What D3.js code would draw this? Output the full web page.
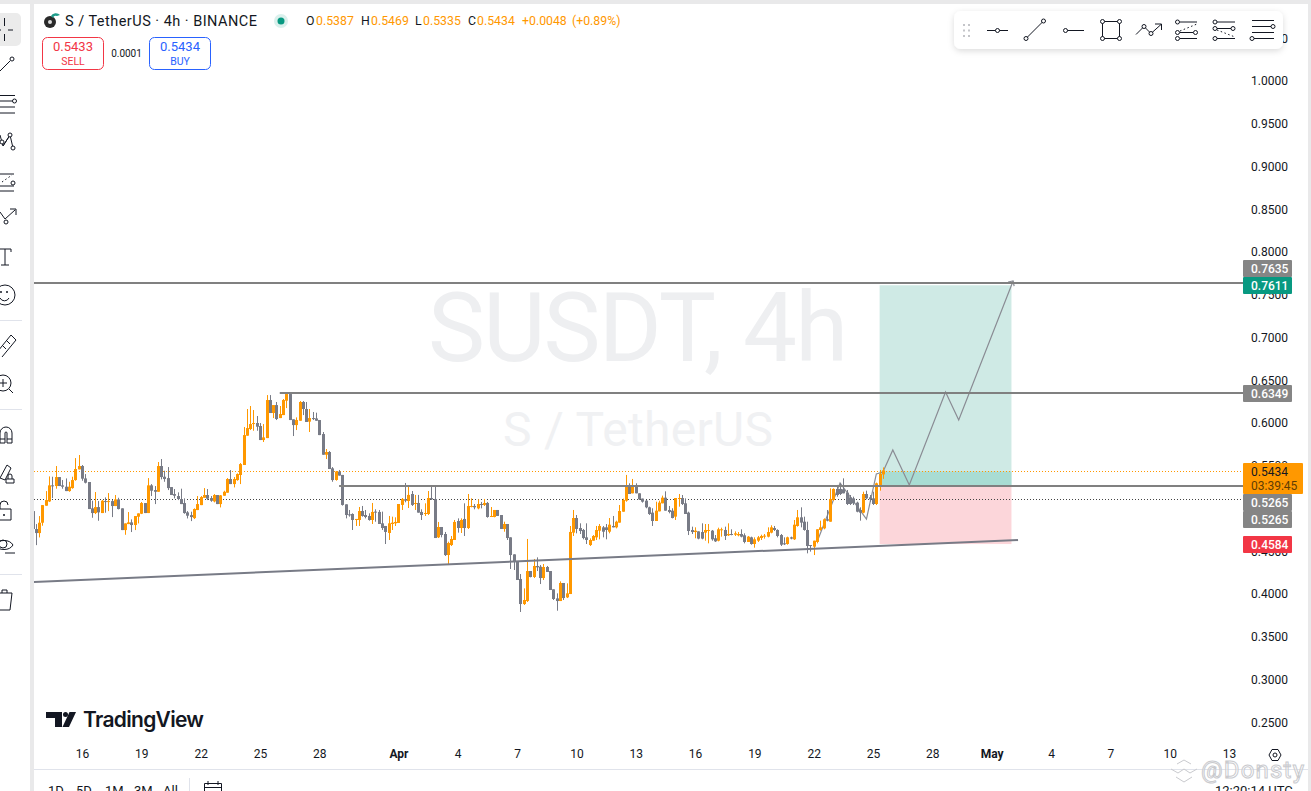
<!DOCTYPE html>
<html>
<head>
<meta charset="utf-8">
<title>SUSDT, 4h</title>
<script src="https://cdn.jsdelivr.net/npm/d3@7"></script>
<style>
  html, body { margin: 0; padding: 0; background: #fff; overflow: hidden; }
  svg { display: block; font-family: Roboto, "Open Sans", sans-serif; }
</style>
</head>
<body>
<svg id="chart" width="1311" height="791"></svg>
<script>
// [open, high, low, close]
var marchBars = [
  [.4958,.4958,.4697,.4748],[.4748,.4806,.4560,.4701],[.4701,.4900,.4650,.4822],[.4822,.5028,.4787,.5028],
  [.5021,.5192,.5021,.5087],[.5071,.5364,.5064,.5259],[.5259,.5360,.5110,.5251],[.5251,.5485,.5220,.5356],
  [.5356,.5356,.5251,.5251],[.5259,.5321,.5220,.5243],[.5243,.5340,.5192,.5192],[.5192,.5301,.5184,.5243],
  [.5227,.5360,.5220,.5321],[.5321,.5578,.5313,.5450],[.5446,.5614,.5446,.5485],[.5485,.5497,.5313,.5337],
  [.5340,.5391,.5282,.5290],[.5298,.5298,.4982,.4982],[.4990,.5079,.4880,.4935],[.4935,.5181,.4923,.5005],
  [.5005,.5075,.4845,.4943],[.4935,.5087,.4935,.5079],[.5075,.5118,.4939,.5067],[.5067,.5169,.4958,.5075],
  [.5075,.5087,.4888,.5017],[.5017,.5146,.5017,.5095],[.5095,.5114,.4978,.4982],[.4990,.4990,.4736,.4736],
  [.4736,.4814,.4681,.4814],[.4806,.4947,.4806,.4826],[.4826,.4861,.4713,.4795],[.4795,.4900,.4736,.4900],
  [.4892,.4931,.4814,.4931],[.4927,.5064,.4923,.5052],[.5052,.5052,.4935,.4935],[.4935,.5344,.4935,.5259],
  [.5259,.5274,.5134,.5196],[.5204,.5251,.5040,.5184],[.5184,.5532,.5184,.5485],[.5485,.5567,.5329,.5356],
  [.5360,.5430,.5301,.5333],[.5344,.5473,.5204,.5227],[.5239,.5239,.5146,.5146],[.5157,.5216,.5107,.5138],
  [.5134,.5177,.5087,.5099],[.5099,.5220,.5040,.5040],[.5052,.5107,.4927,.4935],[.4943,.4958,.4872,.4904],
  [.4911,.4951,.4841,.4888],[.4876,.4990,.4865,.4982],[.4970,.5134,.4970,.5040],[.5028,.5134,.5028,.5122],
  [.5114,.5227,.5114,.5146],[.5146,.5216,.5087,.5103],[.5110,.5134,.5067,.5079],[.5071,.5157,.5060,.5146],
  [.5146,.5146,.5040,.5040],[.5040,.5146,.5001,.5142],[.5138,.5196,.5138,.5184],[.5173,.5344,.5173,.5333],
  [.5333,.5438,.5274,.5274],[.5274,.5356,.5235,.5333],[.5321,.5399,.5313,.5391],[.5380,.5520,.5274,.5508],
  [.5497,.5941,.5497,.5847],[.5840,.6152,.5840,.5929],[.5918,.6187,.5906,.5976],[.5976,.6140,.5898,.5988],
  [.5988,.6070,.5898,.5945],[.5953,.5988,.5789,.5789],[.5789,.5976,.5766,.5820],[.5812,.6315,.5812,.6257],
  [.6257,.6315,.6105,.6105],[.6105,.6198,.6046,.6198],[.6198,.6234,.6023,.6035],[.6046,.6187,.6046,.6093],
  [.6081,.6269,.6081,.6257],[.6249,.6351,.6163,.6327],[.6327,.6327,.6023,.6023],[.6031,.6031,.5836,.5964],
  [.5964,.6054,.5906,.6023],[.6015,.6245,.6015,.6234],[.6234,.6245,.6081,.6152],[.6152,.6234,.6000,.6000],
  [.6004,.6152,.5883,.6046],[.6046,.6117,.6023,.6035],[.6042,.6109,.6015,.6015],[.6023,.6023,.5847,.5847],
  [.5859,.5883,.5617,.5617],[.5617,.5684,.5567,.5649],[.5649,.5660,.5450,.5450],[.5458,.5473,.5301,.5321]
];
var aprilBars = [
  [.5322,.5427,.5314,.5420],[.5420,.5439,.5373,.5373],[.5381,.5381,.5022,.5030],[.5037,.5037,.4873,.4912],
  [.4920,.4971,.4893,.4909],[.4924,.4932,.4737,.4854],[.4854,.4866,.4784,.4866],[.4854,.5006,.4784,.4959],
  [.4959,.5018,.4893,.4901],[.4912,.4971,.4873,.4889],[.4901,.4932,.4846,.4854],[.4854,.5053,.4807,.4948],
  [.4952,.4979,.4834,.4940],[.4948,.4971,.4807,.4807],[.4815,.4952,.4737,.4760],[.4784,.4784,.4573,.4714],
  [.4702,.4901,.4620,.4815],[.4807,.4893,.4737,.4823],[.4815,.4885,.4784,.4831],[.4819,.5041,.4819,.5041],
  [.5030,.5111,.4971,.5100],[.5096,.5287,.5061,.5080],[.5076,.5252,.4994,.5147],[.5158,.5193,.5018,.5030],
  [.5045,.5147,.4971,.5053],[.5053,.5147,.4940,.4940],[.4948,.4979,.4854,.4912],[.4924,.5049,.4901,.4936],
  [.4924,.5193,.4912,.5111],[.5111,.5244,.5088,.5096],[.5100,.5244,.4643,.4643],[.4651,.4831,.4643,.4772],
  [.4772,.4772,.4651,.4678],[.4690,.4714,.4433,.4444],[.4444,.4600,.4327,.4585],[.4561,.4667,.4550,.4632],
  [.4620,.4854,.4620,.4831],[.4842,.4873,.4706,.4760],[.4760,.4873,.4702,.4854],[.4866,.5049,.4667,.4760],
  [.4760,.5158,.4749,.5018],[.5010,.5107,.5002,.5018],[.5018,.5041,.4979,.5002],[.4990,.5096,.4979,.5041],
  [.5041,.5065,.4990,.5033],[.5030,.5100,.5018,.5053],[.5053,.5065,.4881,.4889],[.4889,.5006,.4889,.4901],
  [.4889,.4971,.4885,.4971],[.4971,.4971,.4901,.4901],[.4912,.4912,.4749,.4749],[.4749,.4834,.4717,.4807],
  [.4807,.4807,.4620,.4643],[.4651,.4651,.4281,.4444],[.4452,.4452,.4269,.4374],[.4374,.4374,.4152,.4152],
  [.4164,.4222,.3778,.3871],[.3871,.4054,.3860,.3918],[.3906,.4632,.3895,.4257],[.4257,.4257,.4183,.4187],
  [.4187,.4398,.4175,.4316],[.4316,.4417,.4257,.4300],[.4308,.4327,.4105,.4175],[.4175,.4339,.4152,.4304],
  [.4304,.4316,.4246,.4246],[.4257,.4257,.4035,.4035],[.4043,.4043,.3918,.3930],[.3937,.3996,.3793,.3906],
  [.3906,.4136,.3906,.4117],[.4117,.4117,.3918,.3941],[.3949,.4113,.3941,.3996],[.3988,.4784,.3988,.4714],
  [.4706,.4971,.4667,.4877],[.4877,.4912,.4698,.4749],[.4760,.4815,.4690,.4725],[.4737,.4749,.4628,.4643],
  [.4651,.4815,.4573,.4620],[.4561,.4639,.4550,.4620]
];
var lateBars = [
  [.4612,.4678,.4612,.4667],[.4651,.4784,.4620,.4737],[.4729,.4807,.4628,.4784],[.4768,.4784,.4651,.4717],
  [.4768,.4807,.4628,.4737],[.4717,.4877,.4698,.4799],[.4784,.4901,.4768,.4768],[.4768,.4846,.4756,.4834],
  [.4823,.5029,.4823,.4959],[.4951,.5104,.4951,.5088],[.5080,.5381,.5068,.5252],[.5252,.5283,.5158,.5158],
  [.5166,.5334,.5166,.5252],[.5252,.5283,.5166,.5166],[.5166,.5166,.5088,.5096],[.5104,.5104,.5057,.5068],
  [.5080,.5088,.4991,.5002],[.5002,.5010,.4913,.4924],[.4940,.4991,.4784,.4842],[.4842,.5068,.4842,.4963],
  [.4955,.5080,.4955,.5057],[.5049,.5139,.5049,.5115],[.5115,.5189,.4963,.4963],[.4971,.5018,.4932,.4948],
  [.4963,.4991,.4873,.4877],[.4893,.5111,.4854,.5111],[.5104,.5158,.5010,.5111],[.5111,.5146,.5029,.5041],
  [.5049,.5107,.4924,.4924],[.4940,.4951,.4678,.4725],[.4737,.4776,.4690,.4713],[.4713,.4768,.4640,.4729],
  [.4721,.4721,.4628,.4636],[.4713,.4815,.4628,.4636],[.4706,.4807,.4612,.4737],[.4729,.4807,.4581,.4737],
  [.4729,.4737,.4612,.4628],[.4640,.4678,.4597,.4604],[.4612,.4764,.4604,.4745],[.4737,.4764,.4659,.4745],
  [.4737,.4776,.4620,.4667],[.4675,.4815,.4667,.4690],[.4690,.4745,.4675,.4682],[.4682,.4721,.4667,.4698],
  [.4675,.4713,.4663,.4690],[.4690,.4745,.4651,.4659],[.4675,.4698,.4581,.4597],[.4597,.4667,.4597,.4659],
  [.4651,.4659,.4565,.4573],[.4573,.4651,.4530,.4628],[.4612,.4667,.4597,.4651],[.4643,.4682,.4620,.4667],
  [.4659,.4690,.4636,.4671],[.4659,.4768,.4651,.4713],[.4706,.4792,.4698,.4768],[.4760,.4784,.4725,.4737],
  [.4737,.4745,.4651,.4667],[.4678,.4690,.4550,.4565],[.4581,.4651,.4561,.4569],[.4573,.4659,.4565,.4651],
  [.4651,.4659,.4628,.4636],[.4628,.4854,.4620,.4799],[.4784,.4971,.4776,.4885],[.4885,.5002,.4768,.4823],
  [.4834,.4893,.4729,.4737],[.4737,.4834,.4464,.4550],[.4561,.4561,.4484,.4550],[.4542,.4612,.4444,.4612],
  [.4597,.4745,.4581,.4745],[.4737,.4846,.4729,.4768],[.4756,.4873,.4745,.4862],[.4862,.4971,.4838,.4846],
  [.4834,.5224,.4834,.5100],[.5088,.5224,.5080,.5217],[.5217,.5264,.5127,.5146],[.5217,.5283,.5146,.5158],
  [.5213,.5341,.5166,.5166],[.5174,.5205,.5029,.5041],[.5119,.5146,.5029,.5041],[.5107,.5127,.5029,.5049],
  [.5057,.5068,.4944,.4951],[.4971,.5002,.4846,.4940],[.4940,.5185,.4932,.5158],[.5158,.5197,.5096,.5107],
  [.5119,.5146,.5068,.5096],[.5107,.5185,.5029,.5041],[.5041,.5291,.5029,.5283],[.5264,.5439,.5197,.5392],
  [.5387,.5469,.5335,.5434]
];
var lastBarTime = Date.UTC(2025, 3, 25, 12);
var fourHours = 4 * 3600 * 1000;

var priceTicks = [1.05, 1.0, .95, .9, .85, .8, .75, .7, .65, .6, .55, .5, .45, .4, .35, .3, .25];
var timeTickDates = [[2,16],[2,19],[2,22],[2,25],[2,28],[3,1],[3,4],[3,7],[3,10],[3,13],[3,16],[3,19],[3,22],[3,25],[3,28],[4,1],[4,4],[4,7],[4,10],[4,13]];
var timeTickLabels = ['16','19','22','25','28','Apr','4','7','10','13','16','19','22','25','28','May','4','7','10','13'];

var lastPrice = .5434, targetPrice = .7611, targetLine = .7635, stopPrice = .4584;
var midLine = .6349, entryLine = .5265, dottedLine = .5098;
var rangeStart = [3,25,8], rangeEnd = [4,2,0];
var midLineStart = [2,26,0], entryLineStart = [2,29,0];
var trendTimes = [[2,11,0],[4,2,8]], trendPrices = [.4116, .4631];
var projTimes = [[3,22,4],[3,23,8],[3,24,16],[3,25,4],[3,25,12],[3,26,0],[3,26,20],[3,28,16],[3,29,8],[4,2,2]];
var projPrices = [.4596, .5287, .4865, .5392, .5415, .5673, .5263, .6351, .6023, .7649];

var UP = '#ff9800', DOWN = '#787b86', LINE = '#808080', INK = '#131722';

function utc(a) { return new Date(Date.UTC(2025, a[0], a[1], a[2] || 0)); }

var bars = d3.merge([marchBars, aprilBars, lateBars]).map(function (b, i, all) {
  return { t: new Date(lastBarTime - (all.length - 1 - i) * fourHours), o: b[0], h: b[1], l: b[2], c: b[3] };
});

var x = d3.scaleUtc().domain([utc([2,16]), utc([4,13])]).range([82, 1229]);
var y = d3.scaleLinear().domain([1, .25]).range([80, 721.25]);

var svg = d3.select('#chart');
svg.append('defs').append('clipPath').attr('id', 'pane').append('rect')
  .attr('x', 34).attr('y', 4).attr('width', 1209).attr('height', 765);
var shadow = svg.select('defs').append('filter').attr('id', 'soft')
  .attr('x', '-5%').attr('y', '-20%').attr('width', '110%').attr('height', '150%');
shadow.append('feDropShadow').attr('dx', 0).attr('dy', 2).attr('stdDeviation', 3).attr('flood-color', '#000').attr('flood-opacity', .14);

// page frame
svg.append('rect').attr('width', 1311).attr('height', 791).attr('fill', '#fff');
svg.append('rect').attr('width', 1311).attr('height', 4).attr('fill', '#e9e9ea');
svg.append('rect').attr('x', 30).attr('width', 4).attr('height', 791).attr('fill', '#e9e9ea');
svg.append('rect').attr('x', 1308).attr('width', 3).attr('height', 791).attr('fill', '#e9e9ea');
svg.append('rect').attr('x', 34).attr('y', 769).attr('width', 1274).attr('height', 1).attr('fill', '#e0e3eb');

// watermark
svg.append('text').attr('x', 638).attr('y', 361).attr('text-anchor', 'middle')
  .attr('font-size', 96).attr('fill', '#eeeff1').attr('textLength', 420).text('SUSDT, 4h');
svg.append('text').attr('x', 638).attr('y', 446).attr('text-anchor', 'middle')
  .attr('font-size', 48).attr('fill', '#f0f1f3').attr('textLength', 270).text('S / TetherUS');

var pane = svg.append('g').attr('clip-path', 'url(#pane)');
// the box and level lines sit one pixel under the candles in the reference
var paneBack = pane.append('g').attr('transform', 'translate(0,1)');

// long position box
var boxX = x(utc(rangeStart)), boxW = x(utc(rangeEnd)) - boxX;
paneBack.append('rect').attr('x', boxX).attr('width', boxW).attr('y', y(targetPrice)).attr('height', y(entryLine) - y(targetPrice)).attr('fill', '#cfeae5');
paneBack.append('rect').attr('x', boxX).attr('width', boxW).attr('y', y(lastPrice)).attr('height', y(entryLine) - y(lastPrice)).attr('fill', '#a9dcd3');
paneBack.append('rect').attr('x', boxX).attr('width', boxW).attr('y', y(entryLine)).attr('height', y(stopPrice) - y(entryLine)).attr('fill', '#fcd6da');

// dotted price lines
pane.append('line').attr('x1', 34).attr('x2', 1243)
  .attr('y1', Math.floor(y(lastPrice)) + 1.5).attr('y2', Math.floor(y(lastPrice)) + 1.5)
  .attr('stroke', UP).attr('stroke-width', 1).attr('stroke-dasharray', '1 2');
pane.append('line').attr('x1', 34).attr('x2', 1243)
  .attr('y1', Math.floor(y(dottedLine)) + .5).attr('y2', Math.floor(y(dottedLine)) + .5)
  .attr('stroke', '#444').attr('stroke-width', 1).attr('stroke-dasharray', '1 2');

// projected path
var projLine = d3.line().x(function (d) { return x(utc(d[0])); }).y(function (d) { return y(d[1]); });
pane.append('path').datum(d3.zip(projTimes, projPrices)).attr('d', projLine)
  .attr('fill', 'none').attr('stroke', '#8a8c94').attr('stroke-width', 1.2);
var tipX = x(utc(projTimes[projTimes.length - 1])), tipY = y(projPrices[projPrices.length - 1]);
pane.append('path').attr('d', 'M' + (tipX - 5) + ',' + (tipY + 1) + 'L' + tipX + ',' + tipY + 'L' + (tipX + 1) + ',' + (tipY + 5))
  .attr('fill', 'none').attr('stroke', '#8a8c94').attr('stroke-width', 1.2);

// candles
var candle = pane.append('g').selectAll('g').data(bars).enter().append('g')
  .attr('fill', function (d) { return d.c >= d.o ? UP : DOWN; });
candle.append('rect')
  .attr('x', function (d) { return Math.round(x(d.t)); })
  .attr('width', 1)
  .attr('y', function (d) { return y(d.h); })
  .attr('height', function (d) { return y(d.l) - y(d.h); });
candle.append('rect')
  .attr('x', function (d) { return Math.round(x(d.t)) - 1; })
  .attr('width', 3)
  .attr('y', function (d) { return y(Math.max(d.o, d.c)); })
  .attr('height', function (d) { return Math.max(1, Math.abs(y(d.o) - y(d.c))); });

// horizontal levels and trend line
function hline(price, x1) {
  var py = Math.round(y(price));
  pane.append('line').attr('x1', x1).attr('x2', 1243).attr('y1', py + 1).attr('y2', py + 1)
    .attr('stroke', LINE).attr('stroke-width', 2);
}
hline(targetLine, 34);
hline(midLine, x(utc(midLineStart)));
hline(entryLine, x(utc(entryLineStart)));
pane.append('line')
  .attr('x1', x(utc(trendTimes[0]))).attr('y1', y(trendPrices[0]) + 1)
  .attr('x2', x(utc(trendTimes[1]))).attr('y2', y(trendPrices[1]) + 1)
  .attr('stroke', DOWN).attr('stroke-width', 2);

// axes
var yAxis = d3.axisRight(y).tickValues(priceTicks).tickFormat(d3.format('.4f')).tickSize(0).tickPadding(0);
var yg = svg.append('g').attr('transform', 'translate(1251,1)').call(yAxis);
yg.select('.domain').remove();
yg.selectAll('text').attr('font-size', 12).attr('font-family', 'Roboto').attr('fill', INK);

var xAxis = d3.axisBottom(x).tickValues(timeTickDates.map(utc)).tickSize(0).tickPadding(0)
  .tickFormat(function (d, i) { return timeTickLabels[i]; });
var xg = svg.append('g').attr('transform', 'translate(0,749)').call(xAxis);
xg.select('.domain').remove();
xg.selectAll('text').attr('font-size', 12).attr('font-family', 'Roboto').attr('fill', INK)
  .attr('font-weight', function (d, i) { return isNaN(+timeTickLabels[i]) ? 700 : 400; });

// price tags
function tag(label, top, fill) {
  svg.append('rect').attr('x', 1243).attr('y', top).attr('width', 49).attr('height', 17).attr('rx', 1).attr('fill', fill);
  svg.append('text').attr('x', 1251).attr('y', top + 13).attr('font-size', 12).attr('font-weight', 500).attr('fill', '#fff').text(label);
}
tag(d3.format('.4f')(targetLine), 260, '#858585');
tag(d3.format('.4f')(targetPrice), 277, '#089981');
tag(d3.format('.4f')(midLine), 385, '#858585');
tag(d3.format('.4f')(entryLine), 494, '#858585');
tag(d3.format('.4f')(entryLine), 511, '#858585');
tag(d3.format('.4f')(stopPrice), 536, '#f23645');
svg.append('rect').attr('x', 1243).attr('y', 463).attr('width', 60).attr('height', 31).attr('rx', 1).attr('fill', UP);
svg.append('text').attr('x', 1251).attr('y', 476).attr('font-size', 12).attr('fill', INK).text(d3.format('.4f')(lastPrice));
svg.append('text').attr('x', 1251).attr('y', 490).attr('font-size', 12).attr('fill', '#5f3d05').text('03:39:45');

// legend
svg.append('circle').attr('cx', 50).attr('cy', 22).attr('r', 6).attr('fill', '#2a2a2a');
svg.append('circle').attr('cx', 50).attr('cy', 22).attr('r', 2).attr('fill', '#ddd');
svg.append('path').attr('d', 'M51,16a5,4 0 0 1 9,-1l-3,1a3,3 0 0 0 -4,2z').attr('fill', '#1f9d8b');
svg.append('text').attr('x', 65).attr('y', 26).attr('font-size', 14.5).attr('fill', INK).attr('textLength', 192).text('S / TetherUS · 4h · BINANCE');
svg.append('circle').attr('cx', 281).attr('cy', 21).attr('r', 7).attr('fill', '#089981').attr('opacity', .15);
svg.append('circle').attr('cx', 281).attr('cy', 21).attr('r', 3.5).attr('fill', '#089981');

function legendText(px, label, fill) {
  svg.append('text').attr('x', px).attr('y', 25).attr('font-size', 12.3).attr('fill', fill).text(label);
}
legendText(306, 'O', INK); legendText(316, '0.5387', UP);
legendText(361, 'H', INK); legendText(371, '0.5469', UP);
legendText(415, 'L', INK); legendText(423, '0.5335', UP);
legendText(468, 'C', INK); legendText(477, '0.5434', UP);
legendText(522, '+0.0048', UP); legendText(572, '(+0.89%)', UP);

function tradeButton(bx, color, price, label) {
  svg.append('rect').attr('x', bx + .5).attr('y', 37.5).attr('width', 61).attr('height', 32).attr('rx', 5)
    .attr('fill', '#fff').attr('stroke', color);
  svg.append('text').attr('x', bx + 31).attr('y', 51).attr('text-anchor', 'middle').attr('font-size', 13).attr('fill', color).text(price);
  svg.append('text').attr('x', bx + 31).attr('y', 65).attr('text-anchor', 'middle').attr('font-size', 10.5).attr('fill', color).text(label);
}
tradeButton(42, '#f23645', '0.5433', 'SELL');
tradeButton(149, '#2962ff', '0.5434', 'BUY');
svg.append('text').attr('x', 126.5).attr('y', 57).attr('text-anchor', 'middle').attr('font-size', 10).attr('fill', INK).text('0.0001');

// drawing helpers for the toolbar icons
function icon(g, d) { g.append('path').attr('d', d).attr('fill', 'none').attr('stroke', INK).attr('stroke-width', 1); }
function knob(g, cx, cy, r) { g.append('circle').attr('cx', cx).attr('cy', cy).attr('r', r || 2).attr('fill', '#fff').attr('stroke', INK); }

// floating toolbar
var topBar = svg.append('g');
topBar.append('rect').attr('x', 954).attr('y', 11).attr('width', 329).attr('height', 38).attr('rx', 7).attr('fill', '#fff').attr('filter', 'url(#soft)');
[24, 29.5, 35].forEach(function (gy) {
  [963, 968].forEach(function (gx) { topBar.append('rect').attr('x', gx).attr('y', gy).attr('width', 2).attr('height', 2).attr('fill', '#c4c5c9'); });
});
icon(topBar, 'M987,30.5H1008'); knob(topBar, 997.5, 30.5);
icon(topBar, 'M1026,38.5L1043.5,21'); knob(topBar, 1026, 38.5); knob(topBar, 1043.5, 21);
icon(topBar, 'M1066,30.5H1084'); knob(topBar, 1065.5, 30.5);
icon(topBar, 'M1102.5,21.5H1119.5V38.5H1102.5Z');
[[1102.5,21.5],[1119.5,21.5],[1102.5,38.5],[1119.5,38.5]].forEach(function (p) { knob(topBar, p[0], p[1]); });
icon(topBar, 'M1136,34.5L1144,26.5L1151,33.5L1161,24.5M1155,24H1161.5V30'); knob(topBar, 1144, 26.5); knob(topBar, 1151, 33.5);
icon(topBar, 'M1180,22H1197M1180,32.5H1193M1180,38.5H1197');
topBar.append('path').attr('d', 'M1180,31L1197,24').attr('stroke', INK).attr('stroke-dasharray', '1.5 2.5');
knob(topBar, 1177.5, 22); knob(topBar, 1177.5, 32.5); knob(topBar, 1195.5, 32.5); knob(topBar, 1177.5, 38.5);
icon(topBar, 'M1217,22H1235M1217,28.5H1231M1217,38.5H1235');
topBar.append('path').attr('d', 'M1217,30L1235,37').attr('stroke', INK).attr('stroke-dasharray', '1.5 2.5');
knob(topBar, 1215, 22); knob(topBar, 1215, 28.5); knob(topBar, 1233, 28.5); knob(topBar, 1215, 38.5);
icon(topBar, 'M1252,20.5H1274M1252,26.5H1271M1252,32.5H1274M1254,38.5H1274');
knob(topBar, 1273, 26.5); knob(topBar, 1252, 38.5);

// left toolbar
var side = svg.append('g');
side.append('rect').attr('x', -6).attr('y', 13).attr('width', 27).attr('height', 33).attr('rx', 5).attr('fill', '#ebebeb');
icon(side, 'M4.5,18V26M4.5,34V41M8,30H13M-4,30H1');
icon(side, 'M0,71L10,61'); knob(side, 12, 59);
icon(side, 'M0,95.5H15M0,101H13M0,107H15M0,113H15'); knob(side, 14.5, 101);
icon(side, 'M0,135L3,146L10,135L13,148M3,146L10,135'); knob(side, 2, 142); knob(side, 10, 135); knob(side, 13, 148);
icon(side, 'M0,174H14M0,186H14M0,191H14');
side.append('path').attr('d', 'M2,182L12,175').attr('stroke', INK).attr('stroke-dasharray', '1.5 2.5'); knob(side, 13, 183);
icon(side, 'M0,212L5,219L15,210M10,209H16V215'); knob(side, 6, 222);
icon(side, 'M-1,249H11V252M5,249V265M1,265H9');
side.append('circle').attr('cx', 5).attr('cy', 295).attr('r', 10).attr('fill', 'none').attr('stroke', INK);
icon(side, 'M0,298a5,5 0 0 0 9,0');
side.append('circle').attr('cx', 7).attr('cy', 292).attr('r', 1).attr('fill', INK);
side.append('circle').attr('cx', 1).attr('cy', 292).attr('r', 1).attr('fill', INK);
side.append('rect').attr('x', 0).attr('y', 320).attr('width', 22).attr('height', 1).attr('fill', '#e0e3eb');
icon(side, 'M-2,351L11,335L16,340L2,357M3,346L6,349M7,341L10,344');
side.append('circle').attr('cx', 3).attr('cy', 383).attr('r', 8).attr('fill', 'none').attr('stroke', INK);
icon(side, 'M-1,383H7M3,379V387M9,389L13,393');
side.append('rect').attr('x', 0).attr('y', 409).attr('width', 22).attr('height', 1).attr('fill', '#e0e3eb');
icon(side, 'M0,443V433a6,6 0 0 1 12,0V443H7V433a1,1 0 0 0 -2,0V443ZM0,439H5M7,439H12');
icon(side, 'M0,478L7,465L11,468L5,480ZM6,479H14V483H6ZM8,479V476a2,2 0 0 1 4,0V479');
icon(side, 'M-2,509H11V520H-2ZM0,509V505a4,4 0 0 1 8,0');
side.append('circle').attr('cx', 4).attr('cy', 515).attr('r', 1).attr('fill', INK);
icon(side, 'M-5,545a10,8 0 0 1 18,0a10,8 0 0 1 -18,0M5,553L15,553');
side.append('circle').attr('cx', 3).attr('cy', 544).attr('r', 4).attr('fill', 'none').attr('stroke', INK);
side.append('rect').attr('x', 0).attr('y', 574).attr('width', 22).attr('height', 1).attr('fill', '#e0e3eb');
icon(side, 'M-2,593H12L10,610H-2M2,593V590H7V593');

// TradingView logo
var logo = svg.append('g').attr('fill', INK);
logo.append('path').attr('d', 'M46,712H62V727H55V718H46Z');
logo.append('circle').attr('cx', 65.5).attr('cy', 714.5).attr('r', 2.5);
logo.append('path').attr('d', 'M69.5,712H76L69,727H62.5Z');
logo.append('text').attr('x', 83).attr('y', 727).attr('font-family', 'Inter').attr('font-size', 21).attr('font-weight', 600)
  .attr('textLength', 121).text('TradingView');

// bottom bar
[['1D', 48], ['5D', 76], ['1M', 105], ['3M', 134], ['All', 163]].forEach(function (r) {
  svg.append('text').attr('x', r[1]).attr('y', 795).attr('font-size', 13).attr('fill', INK).text(r[0]);
});
svg.append('rect').attr('x', 189).attr('y', 778).attr('width', 1).attr('height', 13).attr('fill', '#e0e3eb');
icon(svg, 'M204.5,795V783.5H221.5V795M204.5,787.5H221.5M208,781V785M218,781V785');
svg.append('text').attr('x', 1215).attr('y', 795).attr('font-size', 13).attr('fill', INK).text('12:20:14 UTC');
icon(svg, 'M1269,755L1272,749.5H1278L1281,755L1278,760.5H1272Z');
svg.append('circle').attr('cx', 1275).attr('cy', 755).attr('r', 2).attr('fill', 'none').attr('stroke', INK);

// source stamp
var stamp = svg.append('g').attr('fill', 'none').attr('stroke', '#c9cace').attr('stroke-width', 1);
stamp.append('path').attr('d', 'M1177,764L1184,760L1191,764M1171,769L1178,773L1184,769L1190,773L1197,769M1176,777L1184,782L1192,777');
stamp.append('text').attr('x', 1201).attr('y', 778).attr('font-size', 24).attr('fill', '#fff').attr('fill-opacity', .5).attr('textLength', 103).text('@Donsty');
</script>
</body>
</html>
